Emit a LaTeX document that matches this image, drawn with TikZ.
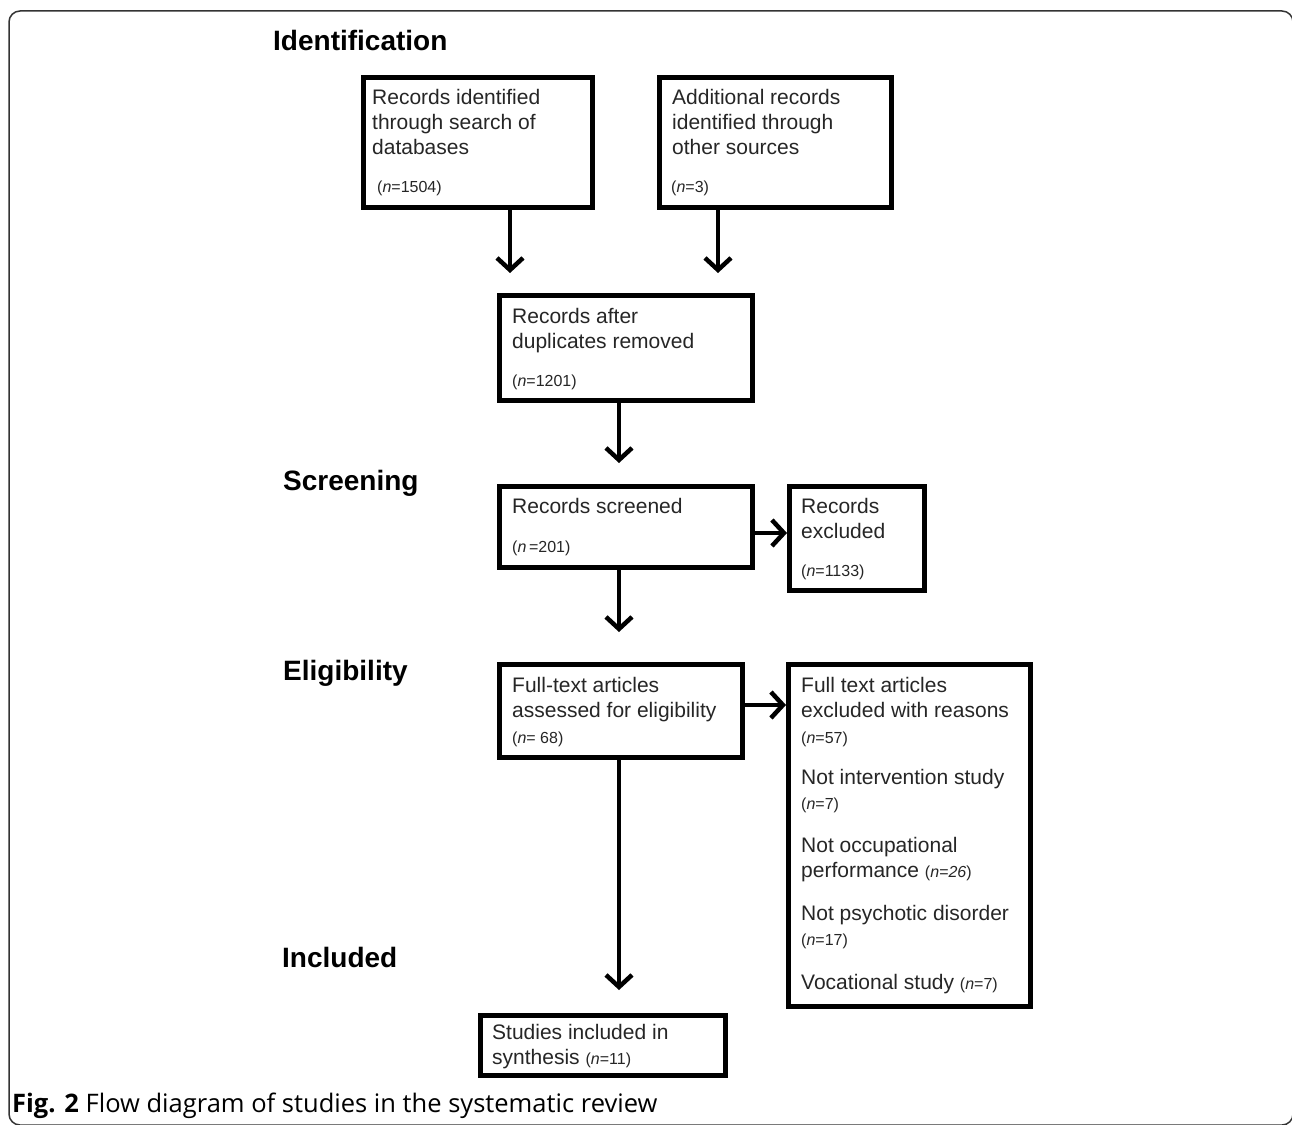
\documentclass[tikz,border=0pt]{standalone}
\usepackage{fontspec}
\setmainfont{Liberation Sans}
\newfontfamily\capfont{Open Sans}
\usetikzlibrary{arrows.meta}
\tikzset{
  box/.style={draw=black, line width=5pt, fill=white, inner sep=0pt, anchor=north west},
  txt/.style={inner sep=0pt, anchor=base west, text=black!85, font=\fontsize{21}{25}\selectfont},
  ntxt/.style={inner sep=0pt, anchor=base west, text=black!85, font=\fontsize{16}{19}\selectfont},
  head/.style={inner sep=0pt, anchor=base west, font=\fontsize{28}{30}\selectfont\bfseries},
  arr/.style={line width=4pt, -{Straight Barb[length=12pt,width=26pt,line width=4.5pt]}},
}
\newcommand{\nn}{\textit{n}}
\begin{document}
\begin{tikzpicture}[x=1pt,y=-1pt]
\useasboundingbox (0,0) rectangle (1292,1124);
% frame
\draw[black!80, line width=1.5pt, rounded corners=11pt] (9,11) rectangle (1293,1125);
% headings
\node[head] (hid) at (273,51) {Identification};
\node[head] (hsc) at (283,490) {Screening};
\node[head] (hel) at (283,680) {Eligibility};
\node[head] (hin) at (282,967) {Included};
% boxes
\node[box, minimum width=229, minimum height=130] (b1) at (361,75) {};
\node[box, minimum width=232, minimum height=130] (b2) at (657,75) {};
\node[box, minimum width=253, minimum height=105] (b3) at (497,293) {};
\node[box, minimum width=253, minimum height=81] (b4) at (497,484) {};
\node[box, minimum width=135, minimum height=104] (b5) at (787,484) {};
\node[box, minimum width=243, minimum height=93] (b6) at (497,662) {};
\node[box, minimum width=242, minimum height=342] (b7) at (786,662) {};
\node[box, minimum width=245, minimum height=60] (b8) at (478,1013) {};
% box texts
\node[txt] (t1a) at (372,104) {Records identified};
\node[txt] (t1b) at (372,129) {through search of};
\node[txt] (t1c) at (372,154) {databases};
\node[ntxt] (t1n) at (377,192) {(\nn=1504)};
\node[txt] (t2a) at (672,104) {Additional records};
\node[txt] (t2b) at (672,129) {identified through};
\node[txt] (t2c) at (672,154) {other sources};
\node[ntxt] (t2n) at (671,192) {(\nn=3)};
\node[txt] (t3a) at (512,323) {Records after};
\node[txt] (t3b) at (512,348) {duplicates removed};
\node[ntxt] (t3n) at (512,386) {(\nn=1201)};
\node[txt] (t4a) at (512,513) {Records screened};
\node[ntxt] (t4n) at (512,552) {(\nn\,=201)};
\node[txt] (t5a) at (801,513) {Records};
\node[txt] (t5b) at (801,538) {excluded};
\node[ntxt] (t5n) at (801,576) {(\nn=1133)};
\node[txt] (t6a) at (512,692) {Full-text articles};
\node[txt] (t6b) at (512,717) {assessed for eligibility};
\node[ntxt] (t6n) at (512,743) {(\nn= 68)};
\node[txt] (t7a) at (801,692) {Full text articles};
\node[txt] (t7b) at (801,717) {excluded with reasons};
\node[ntxt] (t7n) at (801,743) {(\nn=57)};
\node[txt] (t7c) at (801,784) {Not intervention study};
\node[ntxt] (t7cn) at (801,809) {(\nn=7)};
\node[txt] (t7d) at (801,852) {Not occupational};
\node[txt] (t7e) at (801,877) {performance {\fontsize{16}{19}\selectfont(\textit{n=26})}};
\node[txt] (t7f) at (801,920) {Not psychotic disorder};
\node[ntxt] (t7fn) at (801,945) {(\nn=17)};
\node[txt] (t7g) at (801,989) {Vocational study {\fontsize{16}{19}\selectfont(\nn=7)}};
\node[txt] (t8a) at (492,1039) {Studies included in};
\node[txt] (t8b) at (492,1064) {synthesis {\fontsize{16}{19}\selectfont(\nn=11)}};
% arrow end points
\coordinate (e1) at (510,273);
\coordinate (e2) at (718,273);
\coordinate (e3) at (619,463);
\coordinate (e4) at (619,632);
\coordinate (e6) at (619,990);
% connectors
\draw[arr] (b1.south -| e1) -- (e1);
\draw[arr] (b2.south -| e2) -- (e2);
\draw[arr] (b3.south -| e3) -- (e3);
\draw[arr] (b4.east |- 0,533) -- (b5.west |- 0,533);
\draw[arr] (b4.south -| e4) -- (e4);
\draw[arr] (b6.east |- 0,705) -- (b7.west |- 0,705);
\draw[arr] (b6.south -| e6) -- (e6);
% caption
\node[inner sep=0pt, anchor=base west, font=\capfont\fontsize{25.5}{28}\selectfont] (cap) at (12,1112) {\textbf{Fig. 2} Flow diagram of studies in the systematic review};
\end{tikzpicture}
\end{document}
